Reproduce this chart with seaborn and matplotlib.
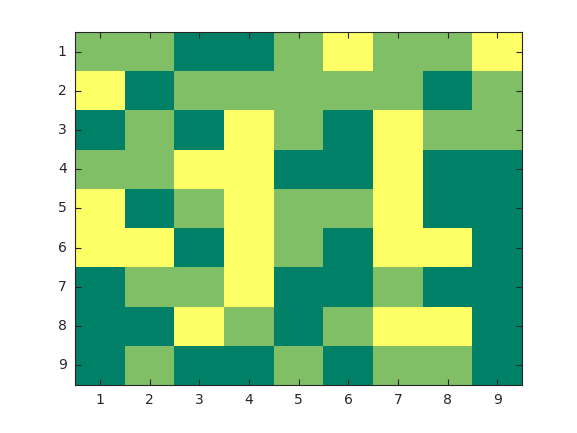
import numpy as np
import matplotlib
matplotlib.use('Agg')
import matplotlib.pyplot as plt
from matplotlib.colors import ListedColormap
import seaborn as sns

# 0 = dark green, 1 = mid green, 2 = yellow
rows = [1, 2, 3, 4, 5, 6, 7, 8, 9]
cols = [1, 2, 3, 4, 5, 6, 7, 8, 9]
grid = [
    [1, 1, 0, 0, 1, 2, 1, 1, 2],
    [2, 0, 1, 1, 1, 1, 1, 0, 1],
    [0, 1, 0, 2, 1, 0, 2, 1, 1],
    [1, 1, 2, 2, 0, 0, 2, 0, 0],
    [2, 0, 1, 2, 1, 1, 2, 0, 0],
    [2, 2, 0, 2, 1, 0, 2, 2, 0],
    [0, 1, 1, 2, 0, 0, 1, 0, 0],
    [0, 0, 2, 1, 0, 1, 2, 2, 0],
    [0, 1, 0, 0, 1, 0, 1, 1, 0],
]
palette = ['#008066', '#80BF66', '#FFFF66']

fig = plt.figure(figsize=(5.77, 4.33), dpi=100)
ax = fig.add_axes([0.130, 0.111, 0.775, 0.815])
sns.heatmap(np.array(grid), cmap=ListedColormap(palette), vmin=-0.5, vmax=2.5,
            cbar=False, ax=ax, xticklabels=cols, yticklabels=rows)

for s in ax.spines.values():
    s.set_visible(True)
    s.set_color('#262626')
    s.set_linewidth(0.8)
ax.tick_params(direction='in', length=4, width=0.8, color='#262626',
               top=True, right=True, labelsize=10, labelcolor='#262626', pad=6)
ax.tick_params(axis='y', labelrotation=0)
ax.tick_params(axis='x', labelrotation=0)

fig.savefig('out.png', dpi=100)
